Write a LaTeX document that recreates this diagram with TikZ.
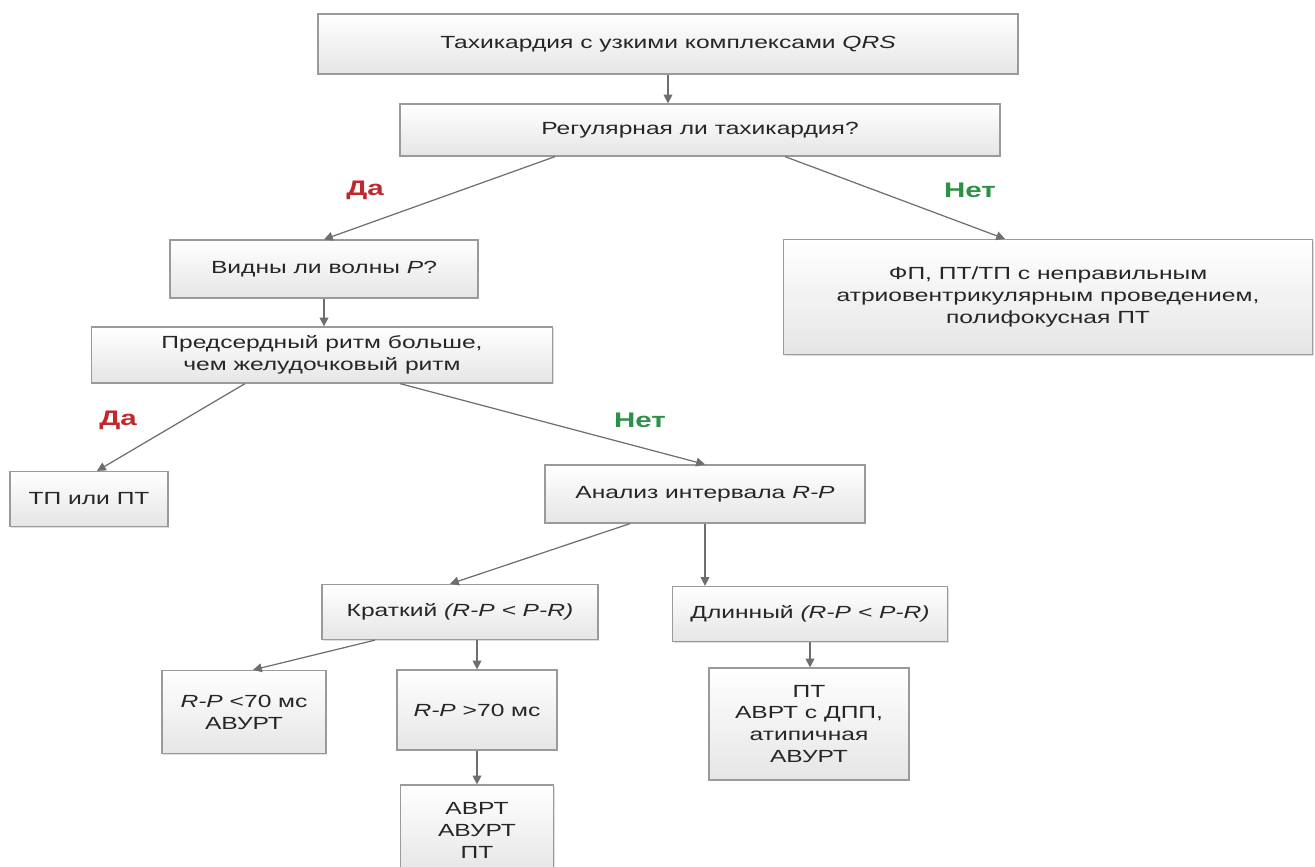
\documentclass[tikz,border=0pt]{standalone}
\usepackage{fontspec}
\setmainfont{Liberation Sans}[FakeStretch=1.4]
\usetikzlibrary{arrows.meta}
\usetikzlibrary{shadows}
\definecolor{boxline}{HTML}{9A9A9A}
\definecolor{linegray}{HTML}{6E6E6E}
\definecolor{dared}{HTML}{C0282E}
\definecolor{netgreen}{HTML}{2E9148}
\tikzset{box/.style = {draw=boxline, line width=0.7pt, top color=white, bottom color=black!10, text=black!85, align=center, inner sep=2pt, font=\fontsize{10}{12.5}\selectfont, drop shadow={shadow xshift=0.8pt, shadow yshift=-0.8pt, opacity=0.25}}}
\tikzset{arr/.style = {draw=linegray, line width=0.7pt, -{Triangle[length=5pt,width=5pt]}}}
\tikzset{da/.style = {text=dared, font=\bfseries\fontsize{12}{14}\selectfont}}
\tikzset{net/.style = {text=netgreen, font=\bfseries\fontsize{12}{14}\selectfont}}

\begin{document}
\begin{tikzpicture}[x=0.02cm, y=-0.02cm]
        \useasboundingbox (0,0) rectangle (1315,866);
        % boxes
        \node [box, minimum width=14cm, minimum height=1.2cm] (tach) at (668,44) {Тахикардия с узкими комплексами \textit{QRS}};
        \node [box, minimum width=12cm, minimum height=1.04cm] (reg) at (700,130) {Регулярная ли тахикардия?};
        \node [box, minimum width=6.16cm, minimum height=1.16cm] (vidny) at (324,269) {Видны ли волны \textit{P}?};
        \node [box, minimum width=9.22cm, minimum height=1.12cm] (predserd) at (322,355) {Предсердный ритм больше,\\чем желудочковый ритм};
        \node [box, minimum width=10.58cm, minimum height=2.3cm] (fp) at (1048,297) {ФП, ПТ/ТП с неправильным\\атриовентрикулярным проведением,\\полифокусная ПТ};
        \node [box, minimum width=3.16cm, minimum height=1.1cm] (tp) at (89,499) {ТП или ПТ};
        \node [box, minimum width=6.4cm, minimum height=1.16cm] (analiz) at (705,494) {Анализ интервала \textit{R-P}};
        \node [box, minimum width=5.52cm, minimum height=1.1cm] (kratk) at (460,612) {Краткий \textit{(R-P < P-R)}};
        \node [box, minimum width=5.5cm, minimum height=1.1cm] (dlin) at (810,614) {Длинный \textit{(R-P < P-R)}};
        \node [box, minimum width=3.28cm, minimum height=1.66cm] (rpless) at (244,712) {\textit{R-P} <70 мс\\АВУРТ};
        \node [box, minimum width=3.2cm, minimum height=1.6cm] (rpmore) at (477,710) {\textit{R-P} >70 мс};
        \node [box, minimum width=3.06cm, minimum height=1.8cm] (avrt) at (477,830) {АВРТ\\АВУРТ\\ПТ};
        \node [box, minimum width=4cm, minimum height=2.24cm] (pt) at (809,724) {ПТ\\АВРТ с ДПП,\\атипичная\\АВУРТ};
        % connectors
        \draw [arr] (tach.south) -- (tach.south |- reg.north);
        \draw [arr] ([xshift=-2.9cm]reg.south) -- (vidny.north);
        \draw [arr] ([xshift=1.7cm]reg.south) -- ([xshift=-0.86cm]fp.north);
        \draw [arr] (vidny.south) -- (vidny.south |- predserd.north);
        \draw [arr] ([xshift=-1.54cm]predserd.south) -- ([xshift=0.16cm]tp.north);
        \draw [arr] ([xshift=1.56cm]predserd.south) -- (analiz.north);
        \draw [arr] ([xshift=-1.5cm]analiz.south) -- ([xshift=-0.2cm]kratk.north);
        \draw [arr] (analiz.south) -- (analiz.south |- dlin.north);
        \draw [arr] ([xshift=-1.7cm]kratk.south) -- ([xshift=0.18cm]rpless.north);
        \draw [arr] ([xshift=0.34cm]kratk.south) -- ([xshift=0.34cm]kratk.south |- rpmore.north);
        \draw [arr] (rpmore.south) -- (avrt.north);
        \draw [arr] (dlin.south) -- (dlin.south |- pt.north);
        % labels
        \node [da] (da1) at (365,190) {Да};
        \node [net] (net1) at (970,190) {Нет};
        \node [da] (da2) at (118,420) {Да};
        \node [net] (net2) at (640,420) {Нет};
    \end{tikzpicture}
\end{document}
